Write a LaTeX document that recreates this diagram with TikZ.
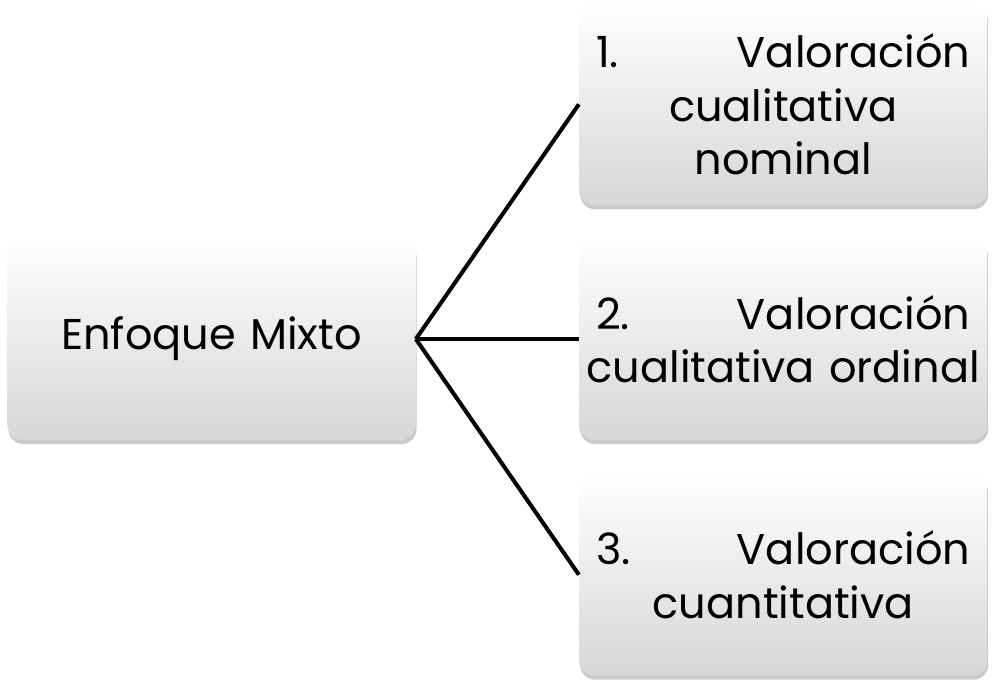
\documentclass[tikz,border=0pt]{standalone}
\usepackage{fontspec}
\setmainfont{Poppins}
\usepackage{tikz}
\usetikzlibrary{positioning,shadows}

\begin{document}
\begin{tikzpicture}[
    caja/.style={draw=none, rounded corners=0.3cm, top color=white, bottom color=gray!32,
        minimum width=8.16cm, minimum height=4.04cm, text width=7.48cm, align=center,
        font=\fontsize{24.5}{30.5}\selectfont, inner sep=0pt,
        drop shadow={shadow xshift=0.02cm, shadow yshift=-0.08cm, opacity=0.35, fill=black!60}},
    enlace/.style={line width=2.3pt, black}
]
    % Marco
    \useasboundingbox (0,0) rectangle (19.84,-13.62);

    % Cajas
    \node[caja] (mixto) at (4.23,-6.78) {Enfoque Mixto};
    \node[caja, right=3.26cm of mixto] (ordinal) {\makebox[\linewidth]{2.\hfill Valoración}\\ \makebox[\linewidth]{cualitativa ordinal}};
    \node[caja, above=0.64cm of ordinal] (nominal) {\makebox[\linewidth]{1.\hfill Valoración}\\ cualitativa\\ nominal};
    \node[caja, below=0.66cm of ordinal] (cuanti) {\makebox[\linewidth]{3.\hfill Valoración}\\ cuantitativa};

    % Conectores
    \draw[enlace] (mixto.east) -- (nominal.west);
    \draw[enlace] (mixto.east) -- (ordinal.west);
    \draw[enlace] (mixto.east) -- (cuanti.west);
\end{tikzpicture}
\end{document}
